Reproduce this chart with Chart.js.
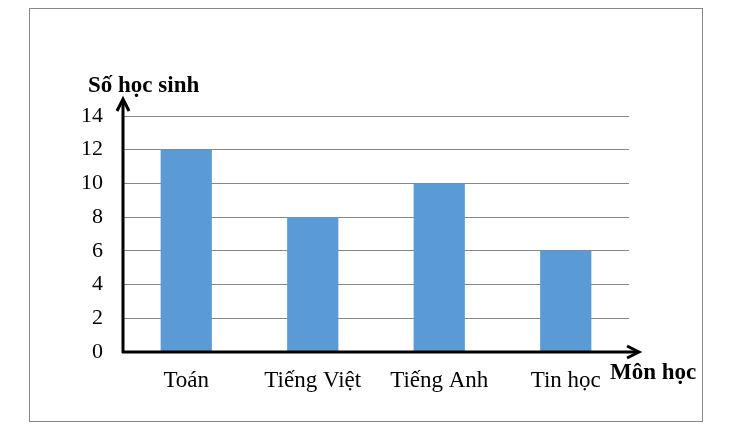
<!DOCTYPE html>
<html>
<head>
<meta charset="utf-8">
<script src="https://cdn.jsdelivr.net/npm/chart.js@4"></script>
<style>
  html, body { margin:0; padding:0; background:#fff; }
  #wrap { width:739px; height:435px; position:relative; }
</style>
</head>
<body>
<div id="wrap"><canvas id="chart" width="739" height="435"></canvas></div>
<script>
const SUBJECTS = ['Toán', 'Tiếng Việt', 'Tiếng Anh', 'Tin học'];
const STUDENTS = [12, 8, 10, 6];
const Y_TITLE = 'Số học sinh';
const X_TITLE = 'Môn học';
const BAR_COLOR = '#5B9BD5';
const SERIF = '"Liberation Serif", "Times New Roman", serif';

// khung, trục có mũi tên và tên trục
const axesPlugin = {
  id: 'axesArrows',
  beforeDraw(chart) {
    const c = chart.ctx;
    c.save();
    c.strokeStyle = '#888';
    c.lineWidth = 1;
    c.strokeRect(29.5, 8.5, 673, 413);
    c.restore();
  },
  afterDraw(chart) {
    const c = chart.ctx, a = chart.chartArea;
    const x0 = a.left, y0 = a.bottom;
    c.save();
    c.strokeStyle = '#000';
    c.lineWidth = 3;
    c.lineCap = 'butt';
    // trục tung
    c.beginPath(); c.moveTo(x0, y0 + 1); c.lineTo(x0, 100); c.stroke();
    c.beginPath(); c.moveTo(x0 - 6, 111); c.lineTo(x0, 99); c.lineTo(x0 + 6, 111); c.stroke();
    // trục hoành
    c.beginPath(); c.moveTo(x0 - 1, y0); c.lineTo(638, y0); c.stroke();
    c.beginPath(); c.moveTo(627, y0 - 6); c.lineTo(639, y0); c.lineTo(627, y0 + 6); c.stroke();
    c.fillStyle = '#000';
    c.font = 'bold 23px ' + SERIF;
    c.textBaseline = 'alphabetic';
    c.textAlign = 'left';
    c.fillText(Y_TITLE, 88, 92);
    c.fillText(X_TITLE, 610, 379);
    c.restore();
  }
};

new Chart(document.getElementById('chart'), {
  type: 'bar',
  data: {
    labels: SUBJECTS,
    datasets: [{ data: STUDENTS, backgroundColor: BAR_COLOR, borderWidth: 0,
      categoryPercentage: 1, barPercentage: 0.405 }]
  },
  options: {
    responsive: false, animation: false,
    layout: { padding: { top: 116, right: 110, bottom: 0, left: 0 } },
    plugins: { legend: { display: false }, tooltip: { enabled: false } },
    scales: {
      x: {
        grid: { display: false, drawTicks: false },
        border: { display: false },
        ticks: { color: '#000', font: { family: SERIF, size: 23 }, padding: 15, maxRotation: 0 },
        afterFit(s) { s.height = 83; }
      },
      y: {
        min: 0, max: 14,
        grid: { color: '#868686', lineWidth: 1, drawTicks: false },
        border: { display: false },
        ticks: { stepSize: 2, color: '#000', font: { family: SERIF, size: 22 }, padding: 20 },
        afterFit(s) { s.width = 123; }
      }
    }
  },
  plugins: [axesPlugin]
});
</script>
</body>
</html>
